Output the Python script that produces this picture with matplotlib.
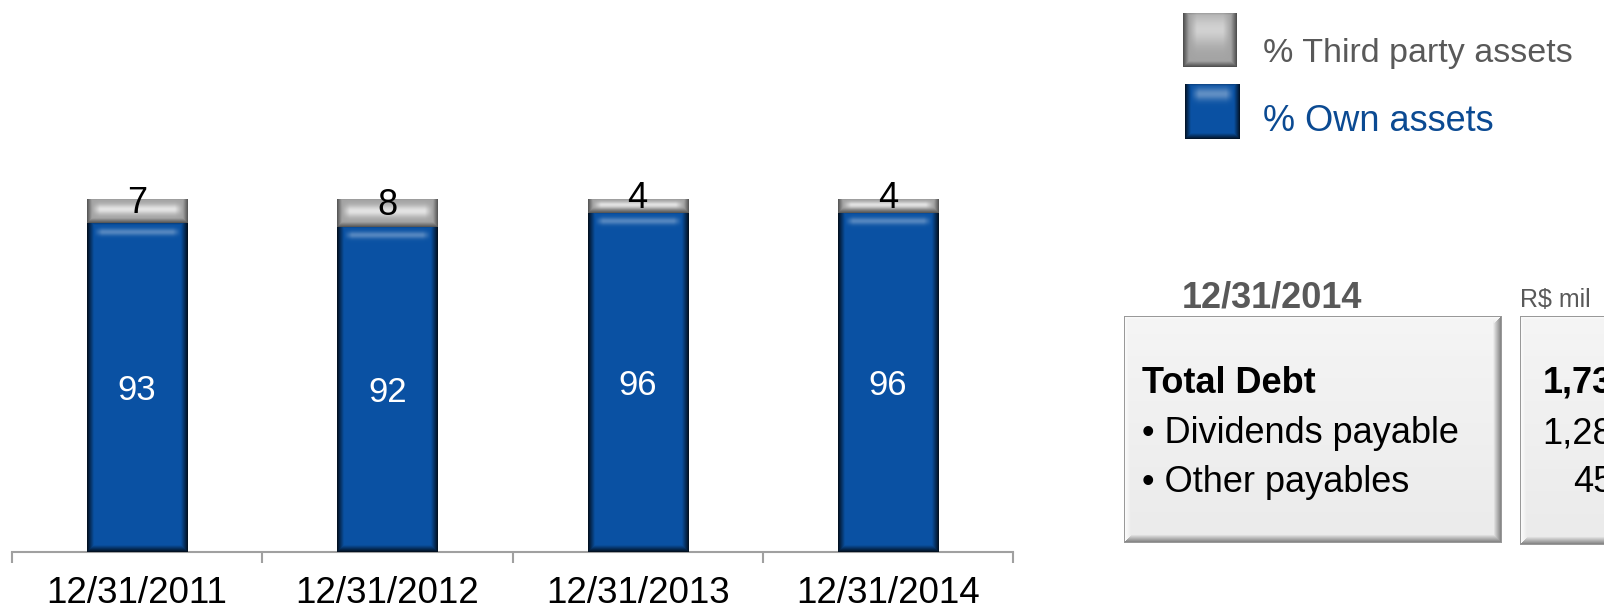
import numpy as np
import matplotlib
matplotlib.use("Agg")
import matplotlib.pyplot as plt
from matplotlib.transforms import offset_copy

plt.rcParams['font.family'] = ['Liberation Sans', 'DejaVu Sans']

# datos del grafico
fechas = ["12/31/2011", "12/31/2012", "12/31/2013", "12/31/2014"]
propios = [93, 92, 96, 96]
terceros = [7, 8, 4, 4]
series = ["% Third party assets", "% Own assets"]

# cuadro de deuda
deuda_fecha = "12/31/2014"
deuda_unidad = "R$ mil"
deuda_rubros = ["Total Debt", "• Dividends payable", "• Other payables"]
deuda_valores = ["1,737", "1,282", "455"]

W, H = 1604, 611
AZUL = (0.04, 0.32, 0.64)
GRIS = (0.64, 0.64, 0.64)
TXT_GRIS = "#595959"
TXT_AZUL = "#0B4A92"


def sombreado(nx, ny, base, borde, oscuro, brillo, banda, sigma):
    """Relleno con bordes oscuros y una franja de brillo (efecto bisel)"""
    col = np.arange(nx) + 0.5
    fil = np.arange(ny) + 0.5
    dx = np.minimum(col, nx - col)[None, :]
    dab = (ny - fil)[:, None]
    dar = fil[:, None]
    f = np.minimum(np.clip(dx / borde, 0, 1), np.clip(dab / borde, 0, 1))
    f = np.minimum(f, 0.7 + 0.3 * np.clip(dar / 2.0, 0, 1))
    img = np.array(base)[None, None, :] * (oscuro + (1 - oscuro) * f)[:, :, None]
    luz = np.exp(-0.5 * ((fil - banda) / sigma) ** 2)[:, None] * np.clip((dx - borde) / 8, 0, 1)
    img = img + (1 - img) * (brillo * luz)[:, :, None]
    return np.clip(img, 0, 1)


def caja(nx, ny, b=9):
    """Caja gris claro con bisel"""
    col = np.arange(nx) + 0.5
    fil = np.arange(ny) + 0.5
    dl = np.broadcast_to(col[None, :], (ny, nx))
    dr = np.broadcast_to((nx - col)[None, :], (ny, nx))
    dt = np.broadcast_to(fil[:, None], (ny, nx))
    db = np.broadcast_to((ny - fil)[:, None], (ny, nx))
    v = 0.96 - 0.04 * dt / ny
    v = np.where(dr < b, np.minimum(v, 0.45 + 0.5 * dr / b), v)
    v = np.where(db < b, np.minimum(v, 0.45 + 0.5 * db / b), v)
    v = np.where((dl < b) & (dl < db) & (dl < dr), np.maximum(v, 1.0 - 0.1 * dl / b), v)
    v = np.where((dt < b) & (dt < dr) & (dt < dl), np.maximum(v, 0.99 - 0.08 * dt / b), v)
    borde = np.minimum(np.minimum(dl, dr), np.minimum(dt, db))
    v = np.where(borde < 1.5, 0.6, v)
    return np.dstack([v, v, v])


fig = plt.figure(figsize=(W / 100, H / 100), dpi=100)

# ---- grafico de barras apiladas ----
ax = fig.add_axes([12 / W, (H - 552) / H, 1001 / W, 353.5 / H])
x = np.arange(len(fechas))
ancho = 0.4
b_prop = ax.bar(x, propios, ancho, color=AZUL, zorder=2)
b_terc = ax.bar(x, terceros, ancho, bottom=propios, color=GRIS, zorder=2)
ax.set_xlim(-0.5, len(fechas) - 0.5)
ax.set_ylim(0, 100)
ax.set_autoscale_on(False)

for barras, base, gris in [(b_prop, AZUL, False), (b_terc, GRIS, True)]:
    for p in barras:
        x0, y0 = p.get_x(), p.get_y()
        w, h = p.get_width(), p.get_height()
        (px0, py0), (px1, py1) = ax.transData.transform([(x0, y0), (x0 + w, y0 + h)])
        nx, ny = max(int(round(px1 - px0)), 2), max(int(round(py1 - py0)), 2)
        if gris:
            img = sombreado(nx, ny, base, 5, 0.5, 0.7, ny * 0.45, max(ny * 0.14, 1.5))
        else:
            img = sombreado(nx, ny, base, 7, 0.15, 0.3, 9, 2.5)
        ax.imshow(img, extent=(x0, x0 + w, y0, y0 + h), aspect='auto',
                  origin='upper', interpolation='bilinear', zorder=3)

# etiquetas de valores
arriba = offset_copy(ax.transData, fig=fig, x=0, y=7, units='dots')
abajo = offset_copy(ax.transData, fig=fig, x=0, y=-3, units='dots')
for xi, p, t in zip(x, propios, terceros):
    ax.text(xi, p / 2, str(p), color="white", fontsize=25, ha='center', va='center',
            zorder=4, transform=abajo)
    ax.text(xi, p + t / 2, str(t), color="black", fontsize=26, ha='center', va='center',
            zorder=4, transform=arriba)

for s in ['top', 'right', 'left']:
    ax.spines[s].set_visible(False)
ax.spines['bottom'].set_color("#A0A0A0")
ax.spines['bottom'].set_linewidth(1.5)
ax.set_yticks([])
ax.set_xticks(np.arange(len(fechas) + 1) - 0.5)
ax.set_xticklabels([])
ax.tick_params(axis='x', which='major', length=8, width=1.5, color="#A0A0A0")
ax.set_xticks(x, minor=True)
ax.set_xticklabels(fechas, minor=True, fontsize=26.5)
ax.tick_params(axis='x', which='minor', length=0, pad=17)
ax.patch.set_visible(False)

# ---- capa en pixeles para leyenda y cuadro de deuda ----
ov = fig.add_axes([0, 0, 1, 1], zorder=-1)
ov.set_xlim(0, W)
ov.set_ylim(H, 0)
ov.set_autoscale_on(False)
ov.axis('off')

# leyenda
muestras = [((1183, 13, 1237, 67), GRIS, True), ((1185, 84, 1240, 139), AZUL, False)]
for (l, t, r, b), base, gris in muestras:
    nx, ny = r - l, b - t
    if gris:
        img = sombreado(nx, ny, base, 6, 0.45, 0.5, ny * 0.3, ny * 0.2)
    else:
        img = sombreado(nx, ny, base, 6, 0.2, 0.35, ny * 0.18, ny * 0.08)
    ov.imshow(img, extent=(l, r, b, t), aspect='auto', origin='upper', interpolation='bilinear')
ov.text(1263, 62, series[0], color=TXT_GRIS, fontsize=24.5, va='baseline')
ov.text(1263, 131, series[1], color=TXT_AZUL, fontsize=26, va='baseline')

# cuadro de deuda
ov.text(1182, 308, deuda_fecha, color=TXT_GRIS, fontsize=26, fontweight='bold', va='baseline')
ov.text(1520, 307, deuda_unidad, color=TXT_GRIS, fontsize=18, va='baseline')
for l, t, r, b in [(1124, 316, 1502, 543), (1520, 316, 1900, 545)]:
    ov.imshow(caja(r - l, b - t), extent=(l, r, b, t), aspect='auto', origin='upper',
              interpolation='bilinear')

lineas = [393, 443, 492]
for i, (rubro, valor, yb) in enumerate(zip(deuda_rubros, deuda_valores, lineas)):
    peso = 'bold' if i == 0 else 'normal'
    ov.text(1142, yb, rubro, fontsize=26, fontweight=peso, va='baseline', color="black")
    ov.text(1633, yb, valor, fontsize=26, fontweight=peso, va='baseline', ha='right', color="black")

fig.savefig("out.png", dpi=100)
